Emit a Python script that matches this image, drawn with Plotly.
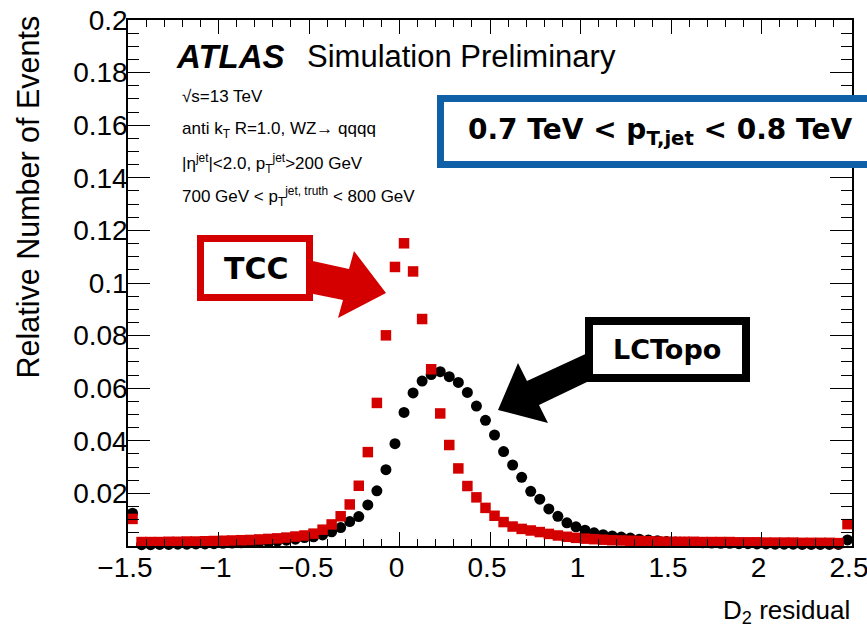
import plotly.graph_objects as go

# ---------------- data ----------------
bin_width = 0.05
bin_centers = [round(-1.475 + bin_width * i, 3) for i in range(80)]

lctopo = [
    0.0125, 0.0005, 0.0005, 0.0006, 0.0006, 0.0007, 0.0007, 0.0008, 0.0008, 0.0009,
    0.0010, 0.0011, 0.0012, 0.0013, 0.0015, 0.0017, 0.0019, 0.0022, 0.0026, 0.0032,
    0.0035, 0.0042, 0.0054, 0.0070, 0.0093, 0.0112, 0.0156, 0.0210, 0.0290, 0.0389,
    0.0508, 0.0582, 0.0627, 0.0652, 0.0663, 0.0644, 0.0622, 0.0584, 0.0532, 0.0478,
    0.0422, 0.0359, 0.0308, 0.0261, 0.0208, 0.0178, 0.0141, 0.0113, 0.0088, 0.0073,
    0.0060, 0.0050, 0.0043, 0.0038, 0.0034, 0.0030, 0.0026, 0.0023, 0.0020, 0.0017,
    0.0015, 0.0014, 0.0013, 0.0012, 0.0011, 0.0010, 0.0010, 0.0009, 0.0009, 0.0008,
    0.0008, 0.0007, 0.0007, 0.0007, 0.0006, 0.0006, 0.0006, 0.0006, 0.0006, 0.0023,
]

tcc = [
    0.0103, 0.0015, 0.0015, 0.0015, 0.0016, 0.0016, 0.0017, 0.0017, 0.0018, 0.0019,
    0.0020, 0.0021, 0.0022, 0.0023, 0.0025, 0.0027, 0.0029, 0.0032, 0.0036, 0.0040,
    0.0047, 0.0062, 0.0082, 0.0113, 0.0158, 0.0229, 0.0357, 0.0544, 0.0801, 0.1061,
    0.1151, 0.1044, 0.0863, 0.0672, 0.0504, 0.0384, 0.0295, 0.0228, 0.0185, 0.0145,
    0.0115, 0.0091, 0.0074, 0.0065, 0.0059, 0.0053, 0.0046, 0.0040, 0.0035, 0.0031,
    0.0028, 0.0026, 0.0024, 0.0022, 0.0021, 0.0020, 0.0019, 0.0018, 0.0017, 0.0016,
    0.0016, 0.0016, 0.0016, 0.0015, 0.0015, 0.0015, 0.0015, 0.0014, 0.0014, 0.0014,
    0.0013, 0.0013, 0.0013, 0.0013, 0.0012, 0.0012, 0.0012, 0.0012, 0.0011, 0.0083,
]

x_tickvals = [-1.5, -1, -0.5, 0, 0.5, 1, 1.5, 2, 2.5]
x_ticktext = ["\u22121.5", "\u22121", "\u22120.5", "0", "0.5", "1", "1.5", "2", "2.5"]
y_tickvals = [0.02, 0.04, 0.06, 0.08, 0.1, 0.12, 0.14, 0.16, 0.18, 0.2]
y_ticktext = ["0.02", "0.04", "0.06", "0.08", "0.1", "0.12", "0.14", "0.16", "0.18", "0.2"]

# ---------------- layout helpers ----------------
W, H = 867, 631
L, T = 128, 20               # plot area in page pixels: x 128..852, y 20..546
PW, PH = 724, 526
R, B = W - L - PW, H - T - PH

def px(x):                   # page pixel -> paper
    return (x - L) / PW

def py(y):
    return (T + PH - y) / PH

RED = "#D40000"
BLUE = "#1060A8"
FONT = "Liberation Sans, Arial, sans-serif"
BOLD = "DejaVu Sans, Verdana, sans-serif"

def poly(points):
    return "M " + " L ".join(f"{px(a):.5f},{py(b):.5f}" for a, b in points) + " Z"

fig = go.Figure()
fig.add_trace(go.Scatter(x=bin_centers, y=lctopo, mode="markers", name="LCTopo",
                         marker=dict(symbol="circle", size=11, color="black", line=dict(width=0)),
                         cliponaxis=False))
fig.add_trace(go.Scatter(x=bin_centers, y=tcc, mode="markers", name="TCC",
                         marker=dict(symbol="square", size=10.5, color=RED, line=dict(width=0)),
                         cliponaxis=False))

shapes = []
# red arrow (TCC)
shapes.append(dict(type="path", xref="paper", yref="paper", layer="above",
                   path=poly([(290, 256), (349, 269), (354, 251), (386, 293), (338, 318), (343, 300), (284, 288)]),
                   fillcolor=RED, line=dict(width=0)))
# black arrow (LCTopo)
shapes.append(dict(type="path", xref="paper", yref="paper", layer="above",
                   path=poly([(605, 345), (527, 381), (518, 363), (498, 410), (548, 423), (539, 405), (612, 370)]),
                   fillcolor="black", line=dict(width=0)))
# TCC box
shapes.append(dict(type="rect", xref="paper", yref="paper", layer="above",
                   x0=px(200.5), x1=px(309.5), y0=py(297.5), y1=py(238.5),
                   fillcolor="white", line=dict(color=RED, width=7)))
# LCTopo box
shapes.append(dict(type="rect", xref="paper", yref="paper", layer="above",
                   x0=px(589), x1=px(746), y0=py(378), y1=py(321),
                   fillcolor="white", line=dict(color="black", width=8)))
# pT box
shapes.append(dict(type="rect", xref="paper", yref="paper", layer="above",
                   x0=px(440.5), x1=px(905), y0=py(164.5), y1=py(98.5),
                   fillcolor="white", line=dict(color=BLUE, width=7)))

ann = []
def text(x, y, s, size, font=FONT, xanchor="left", color="black", **kw):
    ann.append(dict(x=px(x), y=py(y), xref="paper", yref="paper", text=s, showarrow=False,
                    xanchor=xanchor, yanchor="middle", font=dict(family=font, size=size, color=color), **kw))

text(174, 57, "<b><i>ATLAS</i></b>", 33)
text(305, 57, "Simulation Preliminary", 31)
text(180, 96, "\u221as=13 TeV", 17)
text(180, 130, "anti k<sub>T</sub> R=1.0, WZ\u2192 qqqq", 17)
text(180, 163, "|\u03b7<sup>jet</sup>|<2.0, p<sub>T</sub><sup>jet</sup>>200 GeV", 17)
text(180, 196, "700 GeV < p<sub>T</sub><sup>jet, truth</sup> < 800 GeV", 17)
text(660, 131, "<b>0.7 TeV < p<sub>T,jet</sub> < 0.8 TeV</b>", 28, font=BOLD, xanchor="center")
text(256, 268, "<b>TCC</b>", 30, font=BOLD, xanchor="center")
text(667, 350, "<b>LCTopo</b>", 27, font=BOLD, xanchor="center")
text(852, 611, "D<sub>2</sub> residual", 26, xanchor="right")
ann.append(dict(x=px(27), y=py(14), xref="paper", yref="paper", text="Relative Number of Events",
                showarrow=False, textangle=-90, xanchor="center", yanchor="top",
                font=dict(family=FONT, size=30.5, color="black")))

fig.update_layout(
    template="none",
    width=W, height=H,
    margin=dict(l=L, r=R, t=T, b=B, pad=0, autoexpand=False),
    paper_bgcolor="white", plot_bgcolor="white",
    showlegend=False,
    shapes=shapes, annotations=ann,
    xaxis=dict(range=[-1.5, 2.5], tickvals=x_tickvals, ticktext=x_ticktext,
               automargin=False, ticklabeloverflow="allow", ticklabelstandoff=-4, ticklabelshift=-3,
               ticks="inside", ticklen=14, tickwidth=1.2, tickcolor="black",
               minor=dict(dtick=0.1, tick0=0, ticks="inside", ticklen=7, tickwidth=1.2, tickcolor="black"),
               showline=True, linecolor="black", linewidth=1.5, mirror="ticks",
               showgrid=False, zeroline=False,
               tickfont=dict(family=FONT, size=28, color="black")),
    yaxis=dict(range=[0, 0.2], tickvals=y_tickvals, ticktext=y_ticktext,
               automargin=False, ticklabeloverflow="allow", ticklabelstandoff=-7,
               ticks="inside", ticklen=22, tickwidth=1.2, tickcolor="black",
               minor=dict(dtick=0.005, tick0=0, ticks="inside", ticklen=11, tickwidth=1.2, tickcolor="black"),
               showline=True, linecolor="black", linewidth=1.5, mirror="ticks",
               showgrid=False, zeroline=False,
               tickfont=dict(family=FONT, size=28, color="black")),
)

fig.write_html("out.html",
               config={"displayModeBar": False},
               post_script="document.body.style.margin='0';document.body.style.overflow='hidden';")
